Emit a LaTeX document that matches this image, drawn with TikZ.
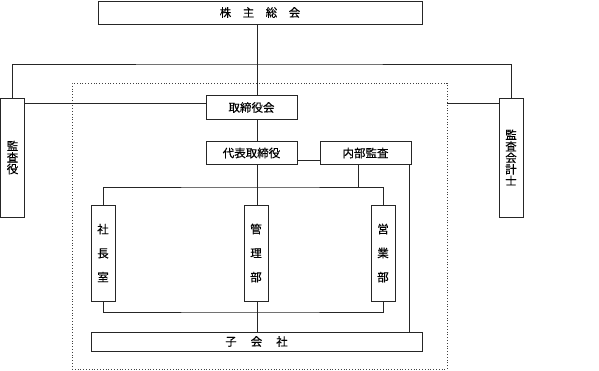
\documentclass[tikz,border=0pt]{standalone}
\usepackage{fontspec}
\setmainfont{Noto Sans CJK JP}[FakeBold=0.3,AutoFakeBold=0.3]
\usepackage{tikz}
\usetikzlibrary{positioning,calc}
\tikzset{
  unit/.style  ={draw=black!85,line width=1pt,fill=white,inner sep=0pt,
                 font=\fontsize{11.5}{12}\selectfont\bfseries,align=center},
  wide/.style  ={unit,minimum height=23},
  post/.style  ={unit,minimum width=91,minimum height=23.5},
  tall/.style  ={unit,minimum width=24,minimum height=119,
                 font=\fontsize{11.5}{11.5}\selectfont\bfseries},
  dept/.style  ={unit,minimum width=24,minimum height=96,
                 font=\fontsize{11.5}{24}\selectfont\bfseries},
  frame/.style ={draw=black!75,dotted,line width=0.8pt,inner sep=0pt},
  link/.style  ={draw=black!85,line width=0.9pt},
}
\begin{document}
\begin{tikzpicture}[x=1pt,y=-1pt]
\useasboundingbox (0,0) rectangle (599,370);
% ---- outer frame of the group
\node[frame,minimum width=375,minimum height=286] (grp) at (259.5,226) {};

% ---- top
\node[wide,minimum width=324] (gm) at (260,12.5) {株　主　総　会};
\node[tall] (kan) at (12.5,157.5) {監\\査\\役};
\node[tall] (kai) at (511,157.5) {監\\査\\会\\計\\士};

% ---- board and officers
\node[post] (bd)  at (251.5,107.5) {取締役会};
\node[post] (rep) at (251.5,153) {代表取締役};
\node[post] (aud) at (365.5,153) {内部監査};

% ---- departments
\node[dept] (d1) at (103,253) {社\\長\\室};
\node[dept] (d2) at (256,253) {管\\理\\部};
\node[dept] (d3) at (383,253) {営\\業\\部};
\node[wide,minimum width=331,minimum height=19] (sub) at (256.5,341.5)
  {子\hspace{14pt}会\hspace{14pt}社};

% ---- connectors
\coordinate (top) at (257,64);
\coordinate (bus) at (257,187);
\coordinate (bot) at (257,312);
\draw[link] (gm.south -| top) -- (bd.north -| top);
\draw[link] (kan.north) |- (top) -| (kai.north);
\draw[link] ([yshift=4.5pt]bd.west) -- ([yshift=4.5pt]bd.west -| kan.east);
\draw[link] ([yshift=4.5pt]bd.west -| grp.east) -- ([yshift=4.5pt]bd.west -| kai.west);
\draw[link] (bd.south -| top) -- (rep.north -| top);
\draw[link] ([yshift=-7pt]rep.east) -- ([yshift=-7pt]rep.east -| aud.west);
\draw[link] (rep.south -| bus) -- (d2.north -| bus);
\draw[link] (d1.north) |- (bus) -| (d3.north);
\draw[link] ([xshift=-7.5pt]aud.south) -- ([xshift=-7.5pt]aud.south |- bus);
\draw[link] ([xshift=-2pt]aud.south east) -- ([xshift=-2pt]aud.south east |- sub.north);
\draw[link] (d1.south) |- (bot) -| (d3.south);
\draw[link] (d2.south -| bot) -- (sub.north -| bot);
\end{tikzpicture}
\end{document}
